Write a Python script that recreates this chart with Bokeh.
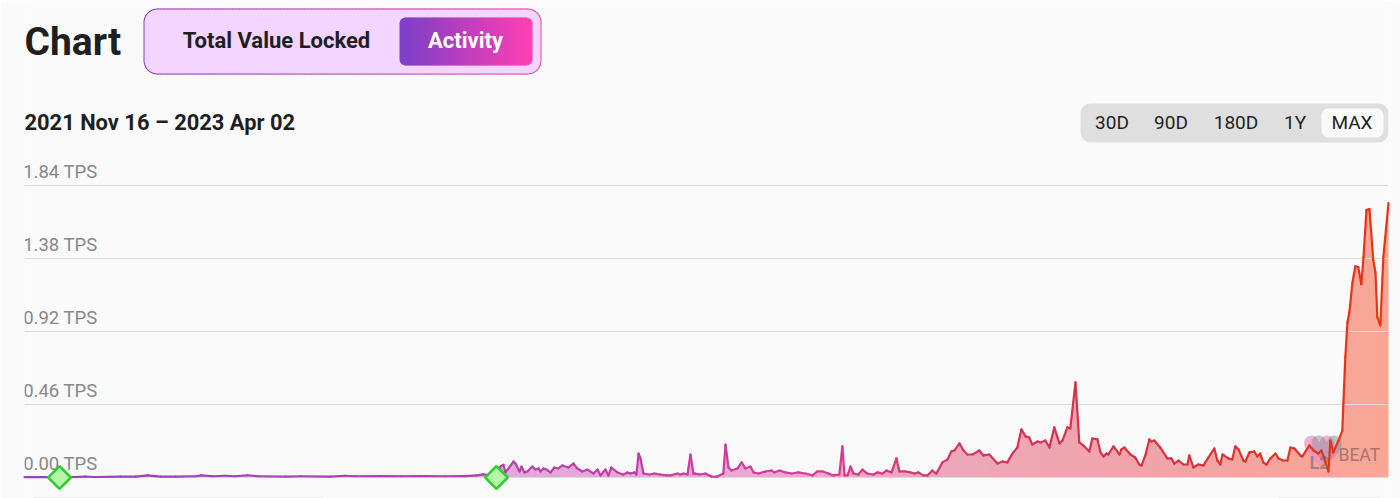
from bokeh.embed import file_html
from bokeh.models import (BoxAnnotation, ColumnDataSource, FixedTicker, Grid, Label,
                          LinearAxis, PrintfTickFormatter, Range1d)
from bokeh.plotting import figure
from bokeh.resources import INLINE

# days since 2021 Nov 16, transactions per second
days = [
    0, 9.6, 18.8, 22.4, 26.1, 35.3, 40.9, 45.3, 50.1, 55.6, 62.9, 65.1, 69.2, 74, 77.6, 82.1,
    86.1, 96.1, 101.6, 112.6, 118.1, 121.8, 131, 138.4, 145.7, 154.9, 162.3, 166.3, 168.9, 171.5, 173.7,
    175.2, 176.3, 177, 180, 180.7, 182.2, 182.9, 184, 185.1, 186.9, 188, 189.2, 189.9, 191, 192.1, 193.6,
    195, 196.5, 198, 200.2, 202, 203.5, 205.3, 207.2, 209.4, 210.9, 212, 213.8, 214.9, 216, 218.2, 220.4,
    221.9, 223, 224.5, 225.2, 226, 226.7, 227.8, 230, 231.8, 234, 236.3, 237.7, 240.3, 241.4, 242.5, 244,
    245.1, 246.2, 246.9, 248.4, 250.6, 252.8, 255, 257.2, 258, 259.1, 260.2, 262.4, 263.9, 265.3, 267.2, 268.3,
    270.1, 272.7, 274.9, 276, 277.8, 280, 282.3, 284.8, 287.4, 290, 291.8, 293.7, 295.9, 297.7, 299.9, 301,
    301.8, 302.9, 304, 305.1, 306.9, 308.4, 310.2, 312.4, 313.9, 315.7, 317.2, 319.1, 320.9, 322, 324.2, 326,
    327.5, 329, 330.8, 332.3, 334.1, 335.6, 337.8, 339.7, 341.1, 342.2, 344.1, 345.6, 347, 348.9, 351.4, 352.9,
    355.1, 358.1, 359.9, 361.7, 363.9, 365.4, 366.9, 368.4, 369.8, 370.9, 372.8, 373.9, 375.7, 377.2, 379, 380.9,
    382, 383.8, 384.9, 386.8, 388.2, 389.7, 391.9, 393, 394.9, 396, 397.1, 398.2, 398.9, 400.8, 403, 403.7,
    404.8, 407, 408.8, 410.3, 411.1, 412.5, 414, 414.7, 415.8, 418, 420.6, 422.1, 423.2, 424.7, 426.5, 428,
    428.7, 430.2, 432, 433.9, 435.7, 437.9, 439, 440.1, 440.9, 443.1, 444.5, 445.6, 446.8, 448.6, 449.3, 450.8,
    452.6, 453.7, 454.8, 455.9, 457.1, 458.5, 460.4, 461.5, 463.3, 464.8, 465.9, 467.4, 469.6, 470.3, 472.9, 474.4,
    476.2, 477.3, 478.4, 479.9, 480.6, 481.7, 483.6, 485, 485.4, 486.1, 486.9, 487.6, 488.7, 489.8, 490.9, 492,
    492.8, 493.9, 495, 496.4, 497.2, 497.9, 499, 500.1, 500.8, 502,
]
tps = [
    .002, .002, .003, .006, .003, .005, .006, .013, .006, .005, .008, .013, .008, .011, .008, .014,
    .008, .006, .008, .006, .011, .008, .009, .008, .009, .008, .009, .013, .020, .014, .016,
    .069, .080, .032, .101, .088, .038, .069, .032, .038, .069, .050, .057, .038, .057, .050, .032,
    .063, .057, .076, .063, .088, .057, .038, .050, .025, .050, .013, .050, .013, .063, .032, .019,
    .032, .025, .032, .019, .151, .120, .025, .019, .025, .019, .013, .013, .025, .019, .025, .019,
    .145, .025, .025, .019, .025, .006, .006, .025, .208, .063, .044, .057, .095, .057, .069, .032,
    .025, .038, .044, .032, .044, .032, .025, .032, .025, .013, .038, .038, .025, .013, .019, .196,
    .013, .013, .069, .025, .019, .050, .025, .019, .032, .025, .044, .032, .120, .038, .038, .032,
    .025, .032, .013, .013, .044, .025, .095, .114, .164, .170, .215, .170, .145, .145, .170, .139,
    .145, .088, .101, .095, .158, .189, .303, .259, .252, .208, .227, .221, .233, .189, .316, .215,
    .233, .316, .309, .599, .221, .202, .164, .246, .240, .158, .133, .151, .145, .196, .145, .177,
    .189, .145, .126, .082, .076, .139, .240, .227, .233, .189, .120, .120, .088, .107, .082, .082,
    .139, .063, .082, .076, .126, .183, .107, .082, .145, .120, .114, .196, .177, .107, .101, .158,
    .164, .133, .151, .095, .082, .120, .151, .120, .107, .107, .189, .183, .139, .133, .202, .170,
    .151, .170, .120, .038, .233, .158, .233, .297, .467, .757, .978, 1.041, 1.224, 1.331, 1.325, 1.218,
    1.388, 1.685, 1.691, 1.369, 1.294, 1.010, .959, 1.388, 1.514, 1.729,
]
milestone_days = [12.9, 173.7]
tick_values = [0, 0.46, 0.92, 1.38, 1.84]
title = "Chart"
tabs = ["Total Value Locked", "Activity"]
date_span = "2021 Nov 16 \u2013 2023 Apr 02"
periods = ["30D", "90D", "180D", "1Y", "MAX"]

PAGE_W, PAGE_H = 1400, 498
LINE_STOPS = [(0, "#9445bd"), (175, "#b53fad"), (290, "#d83a9a"), (345, "#d6355e"), (400, "#d93048"), (502, "#e8340f")]
FILL_STOPS = [(0, "#d9b0e8"), (175, "#dfa9da"), (290, "#f0a8d0"), (345, "#eda7b8"), (400, "#f0a4ac"), (502, "#f9a694")]


def mix(c0, c1, t):
    a = [int(c0[i:i + 2], 16) for i in (1, 3, 5)]
    b = [int(c1[i:i + 2], 16) for i in (1, 3, 5)]
    return "#%02x%02x%02x" % tuple(round(u + (v - u) * t) for u, v in zip(a, b))


def stop_color(stops, d):
    for (d0, c0), (d1, c1) in zip(stops, stops[1:]):
        if d <= d1:
            return mix(c0, c1, (d - d0) / (d1 - d0))
    return stops[-1][1]


def sx(px):
    return px - 24


def sy(py):
    return PAGE_H - py


def box(p, x0, y0, x1, y1, color, radius=0):
    p.add_layout(BoxAnnotation(left=sx(x0), right=sx(x1), top=sy(y0), bottom=sy(y1),
                               left_units="screen", right_units="screen", top_units="screen", bottom_units="screen",
                               fill_color=color, fill_alpha=1, line_color=None, border_radius=radius))


def gradient_box(p, x0, y0, x1, y1, c0, c1, radius):
    # one colour per strip, each runs a pixel under the next so no seams show
    n = (x1 - x0 - 2 * radius) // 3
    box(p, x0, y0, x0 + radius + 1, y1, c0, (radius, 0, 0, radius))
    box(p, x1 - radius - 1, y0, x1, y1, c1, (0, radius, radius, 0))
    for i in range(n):
        left = x0 + radius + 3 * i
        right = x1 - radius if i == n - 1 else left + 4
        box(p, left, y0, right, y1, mix(c0, c1, (i + 0.5) / n))


def label(p, x, y, text, size, color="#1f1f1f", style="bold", align="left", font="Roboto", alpha=1.0, level="annotation"):
    p.add_layout(Label(x=sx(x), y=sy(y), x_units="screen", y_units="screen", text=text, text_font=font,
                       text_font_size=f"{size}px", text_font_style=style, text_color=color, text_alpha=alpha,
                       text_align=align, text_baseline="middle", level=level))


BG = "#fafafa"
px_per_tps = 292 / 1.84
y_start, y_end = -21 / px_per_tps, 477 / px_per_tps
label_shift = 14 / px_per_tps

p = figure(width=PAGE_W, height=PAGE_H, output_backend="svg", toolbar_location=None,
           x_range=Range1d(0, 502), y_range=Range1d(y_start, y_end),
           x_axis_location=None, y_axis_location=None,
           min_border_left=24, min_border_right=12, min_border_top=0, min_border_bottom=0,
           background_fill_color=BG, border_fill_color=BG, outline_line_color=None)
p.grid.visible = False
p.add_layout(Grid(dimension=1, ticker=FixedTicker(ticks=tick_values), grid_line_color="#dcdcdc", grid_line_width=1))

# tick labels sit above their grid lines, so they get a shifted copy of the range
p.extra_y_ranges = {"labels": Range1d(y_start - label_shift, y_end - label_shift)}
axis = LinearAxis(y_range_name="labels", ticker=FixedTicker(ticks=tick_values), fixed_location=0,
                  formatter=PrintfTickFormatter(format="%.2f TPS"), axis_line_color=None,
                  major_tick_line_color=None, minor_tick_line_color=None, major_tick_in=0, major_tick_out=0,
                  major_label_standoff=-73, major_label_text_font="Roboto",
                  major_label_text_font_size="18.5px", major_label_text_color="#888888")
p.add_layout(axis, "left")

# area under the curve, one opaque slice per interval so the colour can run along x
slices = ColumnDataSource(data=dict(
    xs=[[a, b + 0.25, b + 0.25, a] for a, b in zip(days, days[1:])],
    ys=[[0, 0, v1, v0] for v0, v1 in zip(tps, tps[1:])],
    color=[stop_color(FILL_STOPS, (a + b) / 2) for a, b in zip(days, days[1:])],
))
p.patches("xs", "ys", source=slices, fill_color="color", line_color=None, level="underlay")

segments = ColumnDataSource(data=dict(
    x0=days[:-1], x1=days[1:], y0=tps[:-1], y1=tps[1:],
    color=[stop_color(LINE_STOPS, (a + b) / 2) for a, b in zip(days, days[1:])],
))
p.segment("x0", "y0", "x1", "y1", source=segments, line_color="color", line_width=2.2, line_cap="round", level="guide")

p.scatter(milestone_days, [0] * len(milestone_days), marker="square", angle=0.7854, size=16,
          fill_color="#b4f7a8", line_color="#2ecc2e", line_width=2.5, level="overlay")

# watermark, under the line but over the fill
label(p, 1300, 451, "\u2665", 42, color="#f08fc0", style="normal", font="DejaVu Sans", alpha=0.7, level="glyph")
label(p, 1307, 451, "\u2665", 42, color="#8a8a9a", style="normal", font="DejaVu Sans", alpha=0.5, level="glyph")
label(p, 1309, 462, "L2", 18, color="#806070", alpha=0.6, level="glyph")
label(p, 1338, 454, "BEAT", 17.5, color="#806060", style="normal", alpha=0.7, level="glyph")

label(p, 24, 41, title, 39)

gradient_box(p, 143, 8, 541, 74, "#8a3fb4", "#e83fb4", 14)
box(p, 144, 9, 540, 73, "#f3d5ff", 13)
label(p, 276, 40, tabs[0], 22, align="center")
gradient_box(p, 399, 17, 532, 65, "#7f3fc8", "#fb3fb4", 6)
label(p, 465, 40, tabs[1], 22, color="#ffffff", align="center")

label(p, 24, 122, date_span, 21.9)

box(p, 1080, 103, 1388, 142, "#dfdfdf", 10)
box(p, 1321, 108, 1383, 137, "#fafafa", 7)
for cx, name in zip([1111.5, 1170.5, 1235.5, 1294.5, 1351.5], periods):
    label(p, cx, 122, name, 19, style="normal", align="center", font="Roboto")

# top edges of the cards below the chart
box(p, 30, 497, 325, 504, "#e2e2e2", 6)
box(p, 1275, 497, 1382, 504, "#e2e2e2", 6)

open("out.html", "w").write(file_html(p, INLINE))
